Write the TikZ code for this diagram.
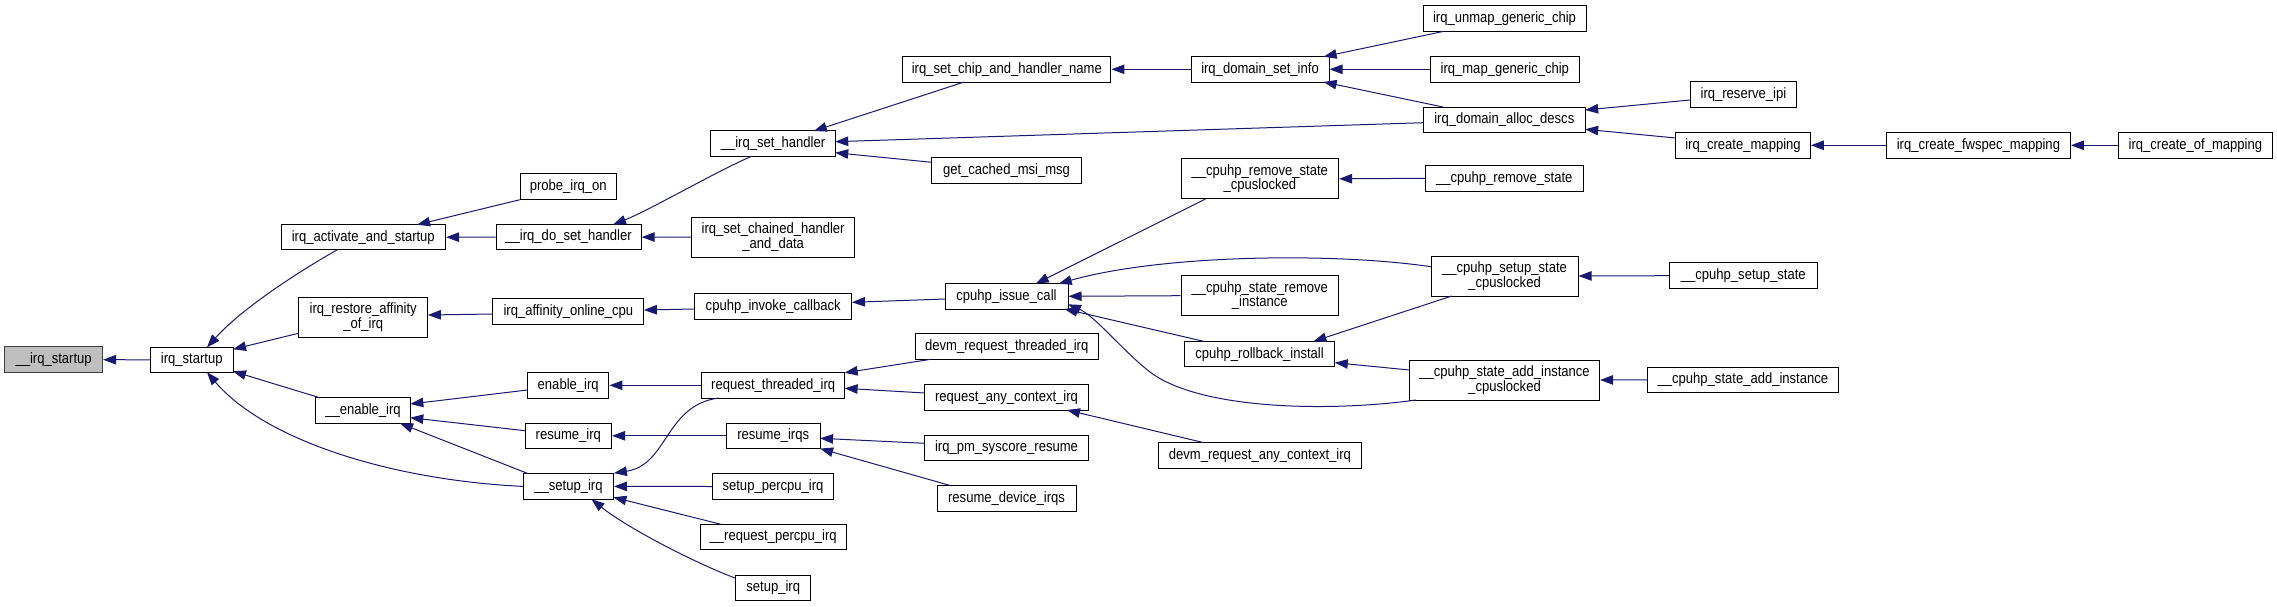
\documentclass[tikz,border=0pt]{standalone}
\usepackage{fontspec}
\setmainfont{Liberation Sans}
\newfontfamily\dotfont[FakeStretch=0.87]{Liberation Sans}
\usetikzlibrary{arrows.meta}
\definecolor{edgeblue}{HTML}{191970}
\definecolor{rootfill}{HTML}{BFBFBF}
\definecolor{rootdraw}{HTML}{404040}
\begin{document}
\begin{tikzpicture}[x=1pt,y=-1pt,
  box/.style={draw=black, fill=white, line width=1pt, inner sep=0pt, align=center,
    font=\dotfont\fontsize{15}{14.5}\selectfont, minimum height=25.5pt},
  dbox/.style={box, minimum height=40pt},
  root/.style={box, fill=rootfill, draw=rootdraw},
  edge/.style={draw=edgeblue, line width=1pt, -{Triangle[length=13pt,width=9.5pt]}}]
\useasboundingbox (0,0) rectangle (2277,607);
% column 0-2
\node[root, minimum width=98pt] (n0) at (53.6,359.7) {\_\_irq\_startup};
\node[box, minimum width=82.6pt] (n1) at (191.7,359.8) {irq\_startup};
\node[box, minimum width=164.5pt] (n2) at (363.3,237.2) {irq\_activate\_and\_startup};
\node[dbox, minimum width=129.4pt] (n3) at (363.2,317) {irq\_restore\_affinity\\\_of\_irq};
\node[box, minimum width=94.6pt] (n4) at (363,410.5) {\_\_enable\_irq};
% column 3
\node[box, minimum width=96pt] (n5) at (568.3,186.5) {probe\_irq\_on};
\node[box, minimum width=145.2pt] (n6) at (568.6,237.1) {\_\_irq\_do\_set\_handler};
\node[box, minimum width=151pt] (n7) at (568.4,311.7) {irq\_affinity\_online\_cpu};
\node[box, minimum width=81.5pt] (n8) at (568.2,385.3) {enable\_irq};
\node[box, minimum width=86.6pt] (n9) at (568.3,435.8) {resume\_irq};
\node[box, minimum width=89.8pt] (n10) at (568.5,486.4) {\_\_setup\_irq};
% column 4
\node[box, minimum width=124.3pt] (n11) at (773,143.7) {\_\_irq\_set\_handler};
\node[dbox, minimum width=163.4pt] (n12) at (773.1,237) {irq\_set\_chained\_handler\\\_and\_data};
\node[box, minimum width=157.5pt] (n13) at (773.2,306.3) {cpuhp\_invoke\_callback};
\node[box, minimum width=142.8pt] (n14) at (773.2,385.3) {request\_threaded\_irq};
\node[box, minimum width=93.8pt] (n15) at (773.2,435.8) {resume\_irqs};
\node[box, minimum width=121pt] (n16) at (773,486.5) {setup\_percpu\_irq};
\node[box, minimum width=146.4pt] (n17) at (773.2,537.1) {\_\_request\_percpu\_irq};
\node[box, minimum width=75pt] (n18) at (773.2,587.8) {setup\_irq};
% column 5
\node[box, minimum width=208.3pt] (n19) at (1006.8,69.3) {irq\_set\_chip\_and\_handler\_name};
\node[box, minimum width=149.5pt] (n20) at (1006.5,170.5) {get\_cached\_msi\_msg};
\node[box, minimum width=123pt] (n21) at (1006.5,296.3) {cpuhp\_issue\_call};
\node[box, minimum width=183pt] (n22) at (1006.7,346.5) {devm\_request\_threaded\_irq};
\node[box, minimum width=163.8pt] (n23) at (1006.5,397.3) {request\_any\_context\_irq};
\node[box, minimum width=163.8pt] (n24) at (1006.5,447.8) {irq\_pm\_syscore\_resume};
\node[box, minimum width=139pt] (n25) at (1006.5,498.3) {resume\_device\_irqs};
% column 6
\node[box, minimum width=138pt] (n26) at (1260,69.3) {irq\_domain\_set\_info};
\node[dbox, minimum width=157.6pt] (n27) at (1259.8,178.8) {\_\_cpuhp\_remove\_state\\\_cpuslocked};
\node[dbox, minimum width=157.5pt] (n28) at (1259.8,295.7) {\_\_cpuhp\_state\_remove\\\_instance};
\node[box, minimum width=150.4pt] (n29) at (1259.6,354.2) {cpuhp\_rollback\_install};
\node[box, minimum width=202.7pt] (n30) at (1259.9,455.5) {devm\_request\_any\_context\_irq};
% column 7
\node[box, minimum width=163pt] (n31) at (1504.5,18.5) {irq\_unmap\_generic\_chip};
\node[box, minimum width=148.4pt] (n32) at (1504.8,69.3) {irq\_map\_generic\_chip};
\node[box, minimum width=161.7pt] (n33) at (1504.3,119.8) {irq\_domain\_alloc\_descs};
\node[box, minimum width=157.4pt] (n34) at (1504.3,178.3) {\_\_cpuhp\_remove\_state};
\node[dbox, minimum width=147pt] (n35) at (1504.5,276) {\_\_cpuhp\_setup\_state\\\_cpuslocked};
\node[dbox, minimum width=190.2pt] (n36) at (1504.5,380) {\_\_cpuhp\_state\_add\_instance\\\_cpuslocked};
% column 8
\node[box, minimum width=106.8pt] (n37) at (1743.4,94.3) {irq\_reserve\_ipi};
\node[box, minimum width=134.8pt] (n38) at (1743,145.3) {irq\_create\_mapping};
\node[box, minimum width=147.4pt] (n39) at (1743.3,275.7) {\_\_cpuhp\_setup\_state};
\node[box, minimum width=191pt] (n40) at (1742.9,379.8) {\_\_cpuhp\_state\_add\_instance};
% columns 9-10
\node[box, minimum width=184pt] (n41) at (1978.4,145.3) {irq\_create\_fwspec\_mapping};
\node[box, minimum width=154pt] (n42) at (2195.4,145.3) {irq\_create\_of\_mapping};

% edges (caller -> callee)
\draw[edge] (n1.west) -- (n0.east);
\draw[edge] ([shift={(-25.8,12.5)}]n2.center) .. controls (310,265) and (245,305) .. ([shift={(15.3,-12.5)}]n1.center);
\draw[edge] ([shift={(-64.7,16.3)}]n3.center) -- ([shift={(41.3,-10.5)}]n1.center);
\draw[edge] ([shift={(-43.4,-12.8)}]n4.center) -- ([shift={(41.3,11.5)}]n1.center);
\draw[edge] (n10.west) .. controls (390,480) and (265,440) .. ([shift={(15.3,12.5)}]n1.center);
\draw[edge] (n5.south west) -- ([shift={(53.8,-12.5)}]n2.center);
\draw[edge] (n6.west) -- (n2.east);
\draw[edge] ([shift={(-75.5,2.3)}]n7.center) -- ([shift={(64.7,-2)}]n3.center);
\draw[edge] ([shift={(-40.75,4.7)}]n8.center) -- ([shift={(47.3,-6.5)}]n4.center);
\draw[edge] ([shift={(-43.3,-5.1)}]n9.center) -- ([shift={(47.3,7.2)}]n4.center);
\draw[edge] ([shift={(-40.5,-12.8)}]n10.center) -- ([shift={(37,12.8)}]n4.center);
\draw[edge] ([shift={(-21.2,12.5)}]n11.center) .. controls (715,172) and (650,210) .. ([shift={(44.4,-12.5)}]n6.center);
\draw[edge] (n12.west) -- (n6.east);
\draw[edge] ([shift={(-78.8,2.7)}]n13.center) -- ([shift={(75.5,-1.7)}]n7.center);
\draw[edge] (n14.west) -- (n8.east);
\draw[edge] (n15.west) -- (n9.east);
\draw[edge] ([shift={(-54.45,12.7)}]n14.center) .. controls (665,405) and (668,465) .. (n10.north east);
\draw[edge] (n16.west) -- (n10.east);
\draw[edge] ([shift={(-52.2,-12.8)}]n17.center) -- ([shift={(44.9,10.9)}]n10.center);
\draw[edge] ([shift={(-37.5,-9.5)}]n18.center) .. controls (700,565) and (630,530) .. ([shift={(23,12.8)}]n10.center);
\draw[edge] ([shift={(-42.6,12.7)}]n19.center) -- ([shift={(40.8,-12.7)}]n11.center);
\draw[edge] ([shift={(-80.85,2.9)}]n33.center) -- ([shift={(62.2,-2)}]n11.center);
\draw[edge] ([shift={(-74.8,-8.2)}]n20.center) -- ([shift={(62.2,9)}]n11.center);
\draw[edge] ([shift={(-61.5,2.7)}]n21.center) -- ([shift={(78.8,-4)}]n13.center);
\draw[edge] ([shift={(-75.9,12.8)}]n22.center) -- ([shift={(71.4,-12.5)}]n14.center);
\draw[edge] ([shift={(-81.9,-4.3)}]n23.center) -- ([shift={(71.4,3)}]n14.center);
\draw[edge] ([shift={(-81.9,-4.5)}]n24.center) -- ([shift={(46.9,2.5)}]n15.center);
\draw[edge] ([shift={(-55.6,-12.6)}]n25.center) -- ([shift={(46.9,12.8)}]n15.center);
\draw[edge] (n26.west) -- (n19.east);
\draw[edge] ([shift={(-54.3,20.2)}]n27.center) -- ([shift={(29.3,-12.6)}]n21.center);
\draw[edge] ([shift={(-73.5,-9.3)}]n35.center) .. controls (1330,252) and (1160,255) .. ([shift={(52.2,-12.6)}]n21.center);
\draw[edge] (n28.west) -- (n21.east);
\draw[edge] ([shift={(-55.6,-12.8)}]n29.center) -- ([shift={(58,12.65)}]n21.center);
\draw[edge] ([shift={(-88.5,20)}]n36.center) .. controls (1330,412) and (1200,410) .. (1150,372) .. controls (1125,353) and (1095,316) .. ([shift={(61.5,8)}]n21.center);
\draw[edge] ([shift={(-55.9,-12.8)}]n30.center) -- ([shift={(60.5,12.7)}]n23.center);
\draw[edge] ([shift={(-60.6,12.8)}]n31.center) -- ([shift={(63.6,-12.6)}]n26.center);
\draw[edge] (n32.west) -- (n26.east);
\draw[edge] ([shift={(-61.3,-12.8)}]n33.center) -- ([shift={(63.6,12.7)}]n26.center);
\draw[edge] ([shift={(-52.7,20)}]n35.center) -- ([shift={(53.8,-12.8)}]n29.center);
\draw[edge] ([shift={(-95.1,-10)}]n36.center) -- ([shift={(75.2,8.5)}]n29.center);
\draw[edge] (n34.west) -- (n27.east);
\draw[edge] ([shift={(-53.4,5.7)}]n37.center) -- ([shift={(80.85,-9.8)}]n33.center);
\draw[edge] ([shift={(-67.4,-7.3)}]n38.center) -- ([shift={(80.85,9.5)}]n33.center);
\draw[edge] (n39.west) -- (n35.east);
\draw[edge] (n40.west) -- (n36.east);
\draw[edge] (n41.west) -- (n38.east);
\draw[edge] (n42.west) -- (n41.east);
\end{tikzpicture}
\end{document}
